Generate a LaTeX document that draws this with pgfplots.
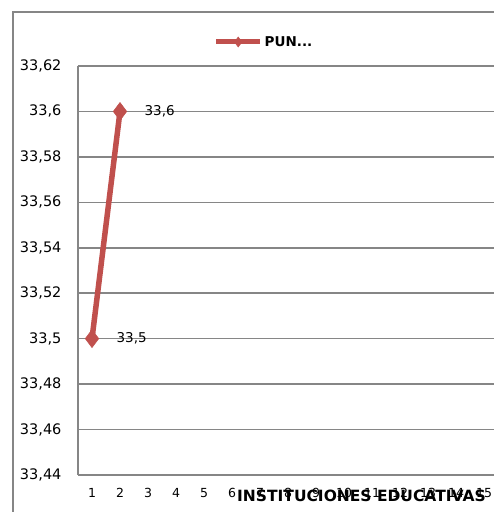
\documentclass[border=0pt]{standalone}
\usepackage{pgfplots}
\pgfplotsset{compat=1.18}
\usepackage{fontspec}
\setmainfont{DejaVu Sans}
\definecolor{linered}{RGB}{192,80,77}
\definecolor{gridgray}{RGB}{134,134,134}

\begin{document}
\begin{tikzpicture}
\path[use as bounding box] (0pt,0pt) rectangle (494pt,512pt);
\clip (0pt,0pt) rectangle (494pt,512pt);
% outer chart frame
\draw[gridgray, line width=1.6pt] (13pt,-10pt) -- (13pt,500pt) -- (520pt,500pt);
\begin{axis}[
    at={(78pt,37pt)}, anchor=south west,
    scale only axis,
    width=440pt, height=409pt,
    xmin=0.5, xmax=16.214,
    ymin=33.44, ymax=33.62,
    xtick={1,...,16},
    ytick={33.44,33.46,...,33.63},
    axis x line*=bottom,
    axis y line*=left,
    axis line style={gridgray, line width=1.6pt, -},
    ymajorgrids,
    grid style={gridgray, line width=1.6pt},
    major tick length=0pt,
    /pgf/number format/assume math mode=true,
    /pgf/number format/use comma,
    /pgf/number format/precision=2,
    yticklabel style={font=\fontsize{14.5}{15}\selectfont, xshift=-13pt},
    xticklabel style={font=\fontsize{12.5}{13}\selectfont, yshift=-10pt},
    xlabel={INSTITUCIONES EDUCATIVAS},
    xlabel style={at={(rel axis cs:0.3614,0)}, anchor=west, inner sep=0pt,
        yshift=-21pt, font=\bfseries\fontsize{15.5}{16}\selectfont},
    legend style={at={(rel axis cs:0.4227,1.0587)}, anchor=center,
        draw=none, fill=none, font=\bfseries\fontsize{13.5}{14}\selectfont},
    legend image code/.code={
        \draw[line width=5pt] (0pt,0pt) -- (44pt,0pt);
        \draw[fill, mark size=5pt] plot[mark=diamond*] coordinates {(22pt,0pt)};
    },
    nodes near coords={\pgfmathprintnumber[precision=1]{\pgfplotspointmeta}},
    every node near coord/.style={anchor=west, xshift=21pt, text=black,
        font=\fontsize{13.5}{14}\selectfont},
]
\addplot[color=linered, line width=5.5pt, mark=diamond*,
    mark size=9pt, mark options={solid, line width=0.5pt}]
    coordinates {(1,33.5) (2,33.6)};
\addlegendentry{PUN...}
\end{axis}
\end{tikzpicture}
\end{document}
